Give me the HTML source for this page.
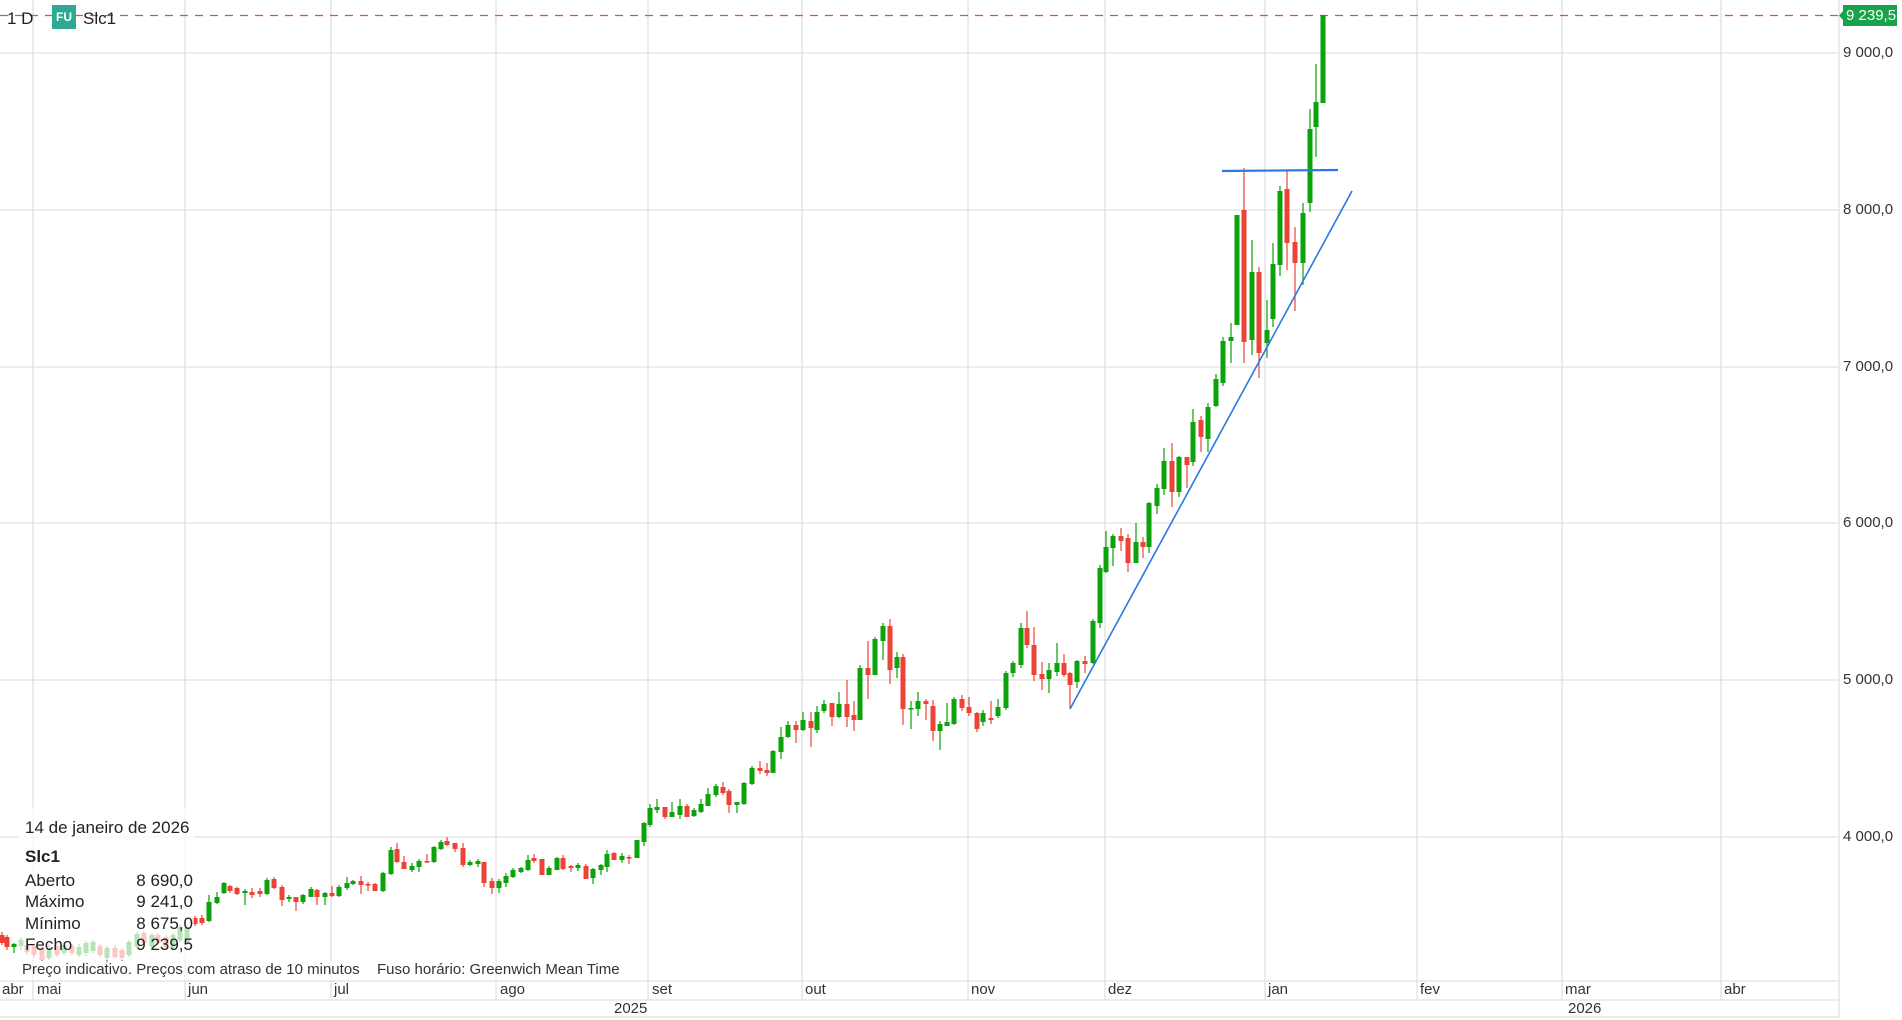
<!DOCTYPE html>
<html>
<head>
<meta charset="utf-8">
<style>
html,body{margin:0;padding:0;background:#fff;}
body{width:1902px;height:1020px;position:relative;overflow:hidden;font-family:"Liberation Sans",Arial,sans-serif;color:#222;}
.t{position:absolute;white-space:nowrap;}
#c{position:absolute;left:0;top:0;}
.ax{font-size:15px;line-height:18px;color:#333;}
.lg{font-size:17px;line-height:20px;color:#222;}
</style>
</head>
<body>
<svg id="c" width="1902" height="1020" viewBox="0 0 1902 1020" xmlns="http://www.w3.org/2000/svg">
  <g stroke="#e0e0e0" stroke-width="1.3" fill="none">
    <line x1="0" y1="53" x2="1839" y2="53"/>
    <line x1="0" y1="210" x2="1839" y2="210"/>
    <line x1="0" y1="367" x2="1839" y2="367"/>
    <line x1="0" y1="523" x2="1839" y2="523"/>
    <line x1="0" y1="680" x2="1839" y2="680"/>
    <line x1="0" y1="837" x2="1839" y2="837"/>
    <line x1="33" y1="0" x2="33" y2="1000"/>
    <line x1="185" y1="0" x2="185" y2="1000"/>
    <line x1="331" y1="0" x2="331" y2="1000"/>
    <line x1="496" y1="0" x2="496" y2="1000"/>
    <line x1="648" y1="0" x2="648" y2="1000"/>
    <line x1="802" y1="0" x2="802" y2="1000"/>
    <line x1="968" y1="0" x2="968" y2="1000"/>
    <line x1="1105" y1="0" x2="1105" y2="1000"/>
    <line x1="1265" y1="0" x2="1265" y2="1000"/>
    <line x1="1417" y1="0" x2="1417" y2="1000"/>
    <line x1="1562" y1="0" x2="1562" y2="1000"/>
    <line x1="1721" y1="0" x2="1721" y2="1000"/>
    <line x1="0" y1="981" x2="1839" y2="981"/>
    <line x1="0" y1="1000" x2="1839" y2="1000"/>
    <line x1="0" y1="1017" x2="1839" y2="1017"/>
    <line x1="1839" y1="0" x2="1839" y2="1017"/>
  </g>
  <line x1="0" y1="15.5" x2="1839" y2="15.5" stroke="#ee4a3e" stroke-width="1.3" stroke-dasharray="8 7"/>
  <g id="cd"></g>
  <line x1="1070" y1="709" x2="1352" y2="191" stroke="#2a78e4" stroke-width="1.6"/>
  <line x1="1222" y1="171" x2="1338" y2="170" stroke="#2a78e4" stroke-width="2.2"/>
  <polygon points="1839,15.5 1843,11 1843,5 1897,5 1897,26 1843,26 1843,20" fill="#16a34a"/>
</svg>

<!-- legend overlay box -->
<div style="position:absolute;left:18px;top:807px;width:176px;height:153px;background:rgba(255,255,255,0.7);"></div>
<div style="position:absolute;left:18px;top:961px;width:607px;height:19px;background:rgba(255,255,255,0.55);"></div>

<!-- top left header -->
<div class="t lg" style="left:7px;top:9px;">1 D</div>
<div class="t" style="left:52px;top:5px;width:24px;height:24px;background:#2da891;color:#fff;font-size:12px;font-weight:bold;line-height:24px;text-align:center;">FU</div>
<div class="t lg" style="left:83px;top:9px;">Slc1</div>

<!-- legend -->
<div class="t lg" style="left:25px;top:818px;">14 de janeiro de 2026</div>
<div class="t lg" style="left:25px;top:847px;font-weight:bold;">Slc1</div>
<div class="t lg" style="left:25px;top:871px;">Aberto</div>
<div class="t lg" style="left:25px;top:892px;">Máximo</div>
<div class="t lg" style="left:25px;top:914px;">Mínimo</div>
<div class="t lg" style="left:25px;top:935px;">Fecho</div>
<div class="t lg" style="left:93px;top:871px;width:100px;text-align:right;">8 690,0</div>
<div class="t lg" style="left:93px;top:892px;width:100px;text-align:right;">9 241,0</div>
<div class="t lg" style="left:93px;top:914px;width:100px;text-align:right;">8 675,0</div>
<div class="t lg" style="left:93px;top:935px;width:100px;text-align:right;">9 239,5</div>
<div class="t" style="left:22px;top:961px;font-size:15px;line-height:18px;color:#333;">Preço indicativo. Preços com atraso de 10 minutos</div>
<div class="t" style="left:377px;top:961px;font-size:15px;line-height:18px;color:#333;">Fuso horário: Greenwich Mean Time</div>

<!-- price axis -->
<div class="t" style="left:1846px;top:6.5px;font-size:15px;line-height:18px;color:#fff;">9 239,5</div>
<div class="t ax" style="left:1843px;top:44px;">9 000,0</div>
<div class="t ax" style="left:1843px;top:201px;">8 000,0</div>
<div class="t ax" style="left:1843px;top:358px;">7 000,0</div>
<div class="t ax" style="left:1843px;top:514px;">6 000,0</div>
<div class="t ax" style="left:1843px;top:671px;">5 000,0</div>
<div class="t ax" style="left:1843px;top:828px;">4 000,0</div>

<!-- time axis -->
<div class="t ax" style="left:2px;top:981px;">abr</div>
<div class="t ax" style="left:37px;top:981px;">mai</div>
<div class="t ax" style="left:188px;top:981px;">jun</div>
<div class="t ax" style="left:334px;top:981px;">jul</div>
<div class="t ax" style="left:500px;top:981px;">ago</div>
<div class="t ax" style="left:652px;top:981px;">set</div>
<div class="t ax" style="left:805px;top:981px;">out</div>
<div class="t ax" style="left:971px;top:981px;">nov</div>
<div class="t ax" style="left:1108px;top:981px;">dez</div>
<div class="t ax" style="left:1268px;top:981px;">jan</div>
<div class="t ax" style="left:1420px;top:981px;">fev</div>
<div class="t ax" style="left:1565px;top:981px;">mar</div>
<div class="t ax" style="left:1724px;top:981px;">abr</div>
<div class="t ax" style="left:614px;top:1000px;">2025</div>
<div class="t ax" style="left:1568px;top:1000px;">2026</div>

<script>
(function(){
var D=[
[2,935,943,932,945,0],[7,937,947,935,950,0],[14,944,947,943,953,1],[21,940,946,937,950,1],
[27,945,952,943,955,0],[34,946,955,944,958,0],[42,948,960,945,961,0],[49,948,958,945,960,1],
[57,946,955,944,957,0],[64,945,953,943,955,1],[72,946,953,944,955,0],[79,947,955,944,957,1],
[86,943,953,941,956,1],[93,942,951,940,953,1],[100,946,955,944,957,0],[107,948,958,946,963,1],
[115,948,957,945,959,0],[122,950,958,948,961,0],[129,942,955,940,957,1],[137,934,947,932,949,1],
[144,933,943,931,945,0],[152,935,947,933,949,1],[158,935,943,933,945,0],[166,937,947,935,949,0],
[173,935,947,933,949,1],[180,927,940,925,942,1],[187,927,943,925,945,1],[195,918,924,916,926,0],
[202,918,923,915,925,0],
[209,902,921,895,922,1],[217,897,903,892,904,1],[224,883,893,882,894,1],[230,886,891,885,893,0],
[237,888,894,887,895,0],[245,891,893,889,905,1],[252,892,895,888,898,0],[260,891,894,888,897,0],
[267,880,894,878,895,1],[274,879,888,877,889,0],[282,887,900,885,906,0],[289,897,899,895,902,1],
[296,897,902,897,911,0],[303,895,902,894,904,1],[311,889,897,887,897,1],[317,890,897,889,905,0],
[325,893,897,892,905,1],
[332,893,896,886,897,0],[339,887,896,885,897,1],[347,883,888,877,890,1],[353,881,884,880,885,1],
[361,881,885,876,894,0],[368,884,885,882,891,0],[375,884,891,883,891,0],[383,873,891,872,892,1],
[391,850,874,847,875,1],[397,849,862,843,863,0],[404,862,869,856,869,0],[412,866,870,863,872,1],
[419,861,867,859,872,1],[427,861,862,854,863,0],[434,847,862,846,863,1],[441,842,849,840,850,1],
[447,841,845,837,846,0],[455,843,849,843,852,0],[463,848,865,843,867,0],[470,862,865,860,866,1],
[478,861,864,859,867,1],[484,862,883,862,887,0],[492,881,888,878,894,0],[499,881,888,879,893,1],
[506,876,883,873,887,1],[513,870,877,868,878,1],[521,868,872,867,873,1],[528,860,870,855,871,1],
[534,858,861,854,863,0],[542,859,875,859,875,0],[549,868,875,866,875,1],[557,858,870,857,870,1],
[563,858,869,855,870,0],[571,866,868,865,872,0],[578,865,868,863,871,1],[586,866,879,864,879,0],
[593,869,878,868,884,1],[601,865,870,864,875,1],[607,854,867,850,872,1],[614,853,860,852,860,0],
[622,856,860,853,863,1],[629,857,858,855,864,0],[637,840,858,840,858,1],
[644,823,842,822,846,1],[650,808,825,804,827,1],[657,807,810,799,813,1],[665,807,817,807,819,0],
[672,812,817,802,817,1],[680,806,815,799,819,1],[687,806,817,804,817,0],[694,810,816,808,817,1],
[701,804,812,799,813,1],[708,794,806,788,806,1],[716,786,795,784,797,1],[723,787,793,782,795,0],
[729,791,805,789,813,0],[737,802,805,802,813,1],[744,783,804,782,805,1],[752,768,784,766,785,1],
[760,768,771,761,774,0],[767,770,773,763,776,0],[773,751,773,750,773,1],[781,737,752,727,759,1],
[788,725,737,721,738,1],[796,725,730,721,743,0],[803,720,730,712,731,1],[811,721,728,712,747,0],
[817,712,730,706,733,1],[824,704,711,700,713,1],[832,703,717,703,726,0],[839,704,717,692,718,1],
[847,704,717,680,727,0],[854,715,720,701,731,0],[860,668,720,665,720,1],[868,668,675,641,699,0],
[875,639,675,637,675,1],[883,626,641,623,660,1],[890,626,670,619,684,0],[897,657,668,652,678,1],
[903,657,709,654,725,0],[911,708,709,701,729,1],[918,701,709,692,716,1],[926,701,704,699,720,0],
[933,706,731,700,741,0],[940,724,731,721,750,1],[947,722,726,703,726,1],[954,699,724,697,725,1],
[962,699,708,695,711,0],[969,707,713,697,716,0],[977,713,729,712,732,0],[983,713,722,710,726,1],
[991,718,720,701,724,0],[998,707,716,699,718,1],[1006,673,708,671,710,1],[1013,663,673,661,677,1],
[1021,628,665,623,668,1],[1027,628,645,611,648,0],[1034,645,675,627,681,0],[1042,674,679,662,690,0],
[1049,670,679,663,693,1],[1057,663,672,643,676,1],[1064,663,675,654,677,0],[1070,673,685,672,708,0],
[1077,661,682,660,688,1],[1085,661,664,656,673,0],[1093,621,663,619,664,1],[1100,568,623,565,628,1],
[1106,547,572,531,573,1],[1113,536,548,534,566,1],[1121,536,541,528,551,0],[1128,538,563,534,572,0],
[1136,542,563,523,563,1],[1143,542,547,537,558,0],[1149,503,547,502,553,1],[1157,488,506,484,514,1],
[1164,461,489,448,495,1],[1172,461,492,443,507,0],[1179,457,492,456,497,1],[1187,457,465,457,488,0],
[1193,422,462,409,466,1],[1201,420,437,416,452,0],[1208,407,439,403,452,1],[1216,379,406,374,407,1],
[1223,341,383,337,386,1],[1231,337,341,323,363,1],[1237,215,325,215,325,1],[1244,210,342,168,363,0],
[1252,272,340,240,355,1],[1259,272,353,267,378,0],[1267,330,343,300,358,1],[1273,264,319,243,327,1],
[1280,191,265,186,276,1],[1287,189,243,170,270,0],[1295,242,263,227,311,0],[1303,213,263,203,285,1],
[1310,129,203,109,212,1],[1316,102,127,64,157,1],[1323,15,103,15,103,1]
];
var NS="http://www.w3.org/2000/svg";
var g=document.getElementById("cd");
function r(x,y,w,h,f){var e=document.createElementNS(NS,"rect");e.setAttribute("x",x);e.setAttribute("y",y);e.setAttribute("width",w);e.setAttribute("height",h);e.setAttribute("fill",f);g.appendChild(e);}
for(var i=0;i<D.length;i++){
  var d=D[i],col=d[5]?"#0ba20b":"#ed4337";
  r(d[0]-0.6,d[3],1.2,Math.max(d[4]-d[3],1),col);
  r(d[0]-2.5,d[1],5,Math.max(d[2]-d[1],1.6),col);
}
})();
</script>
</body>
</html>
